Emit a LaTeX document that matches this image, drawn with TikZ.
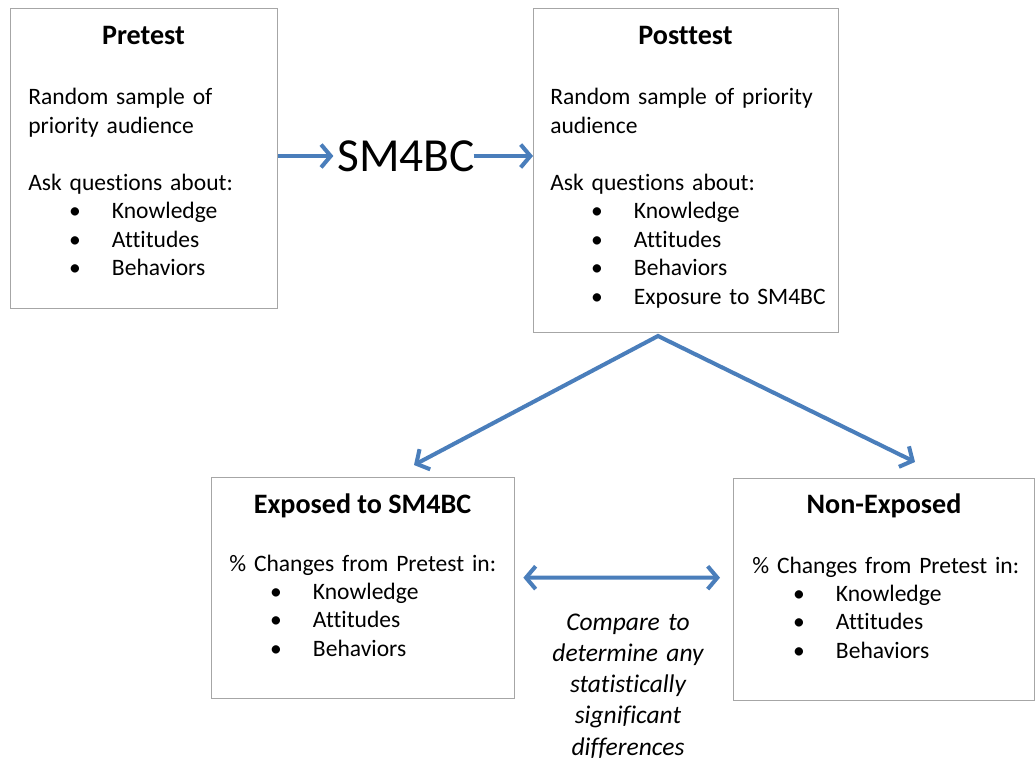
\documentclass[tikz,border=0pt]{standalone}
\usepackage{fontspec}
\setmainfont{Carlito}[Ligatures={NoCommon}]
\usetikzlibrary{arrows.meta, positioning, calc}

\definecolor{flowblue}{HTML}{4A7EBB}
\definecolor{framegray}{HTML}{A6A6A6}

\newcommand{\bodysize}{\fontsize{13.4}{16.2}\selectfont}
\newcommand{\bitem}[1]{\hspace*{26.6pt}\makebox[0pt]{\textbullet}\hspace*{21pt}#1}

\tikzset{
  box/.style={draw=framegray, line width=0.8pt, anchor=north west, inner sep=0pt},
  boxtitle/.style={anchor=base, inner sep=0pt, font=\fontsize{16}{19}\selectfont\bfseries},
  boxbody/.style={anchor=base west, inner sep=0pt, text width=5.8cm, align=left, font=\bodysize},
  flow/.style={draw=flowblue, line width=2.3pt, line join=miter,
    -{Straight Barb[length=5.5pt,width=13pt]}},
  twoway/.style={flow, {Straight Barb[length=5.5pt,width=13pt]}-{Straight Barb[length=5.5pt,width=13pt]}},
}

\begin{document}
\begin{tikzpicture}[x=0.02cm, y=-0.02cm]
    \useasboundingbox (0,0) rectangle (1035,760);

    % boxes
    \node[box, minimum width=5.34cm, minimum height=6.00cm] (pre)  at (10,8)   {};
    \node[box, minimum width=6.10cm, minimum height=6.48cm] (post) at (533,8)  {};
    \node[box, minimum width=6.06cm, minimum height=4.42cm] (exp)  at (211,477) {};
    \node[box, minimum width=6.02cm, minimum height=4.44cm] (non)  at (733,478) {};

    % titles
    \node[boxtitle] (pretitle)  at (143.5,45) {Pretest};
    \node[boxtitle] (posttitle) at (685.5,45) {Posttest};
    \node[boxtitle] (exptitle)  at (362.5,513) {Exposed to SM4BC};
    \node[boxtitle] (nontitle)  at (884,513) {Non-Exposed};

    % box texts
    \node[boxbody] (prebody) at (28,105) {Random sample of\\priority audience\\[16.2pt]
        Ask questions about:\\\bitem{Knowledge}\\\bitem{Attitudes}\\\bitem{Behaviors}};
    \node[boxbody] (postbody) at (550,105) {Random sample of priority\\audience\\[16.2pt]
        Ask questions about:\\\bitem{Knowledge}\\\bitem{Attitudes}\\\bitem{Behaviors}\\\bitem{Exposure to SM4BC}};
    \node[boxbody] (expbody) at (229,571) {\% Changes from Pretest in:\\
        \bitem{Knowledge}\\\bitem{Attitudes}\\\bitem{Behaviors}};
    \node[boxbody] (nonbody) at (752,573) {\% Changes from Pretest in:\\
        \bitem{Knowledge}\\\bitem{Attitudes}\\\bitem{Behaviors}};

    % campaign in the middle
    \node[inner sep=2pt, font=\fontsize{27}{32}\selectfont] (sm) at (406,156) {SM4BC};
    \node[anchor=base, inner sep=0pt, text width=4cm, align=center, font=\fontsize{14.5}{17.8}\selectfont\itshape]
        (compare) at (628,630) {Compare to\\determine any\\statistically\\significant\\differences};

    % arrow ends
    \coordinate (fork)  at (658,336);
    \coordinate (expin) at (414,465);
    \coordinate (nonin) at (915,462);

    \draw[flow] (pre.east |- sm) -- (sm.west);
    \draw[flow] ([xshift=-0.1cm]sm.east) -- (post.west |- sm);
    \draw[twoway] (expin) -- (fork) -- (nonin); % split after posttest
    \draw[twoway, shorten <=0.16cm, shorten >=0.26cm] ([yshift=0.21cm]exp.east) -- ([yshift=0.24cm]non.west);
\end{tikzpicture}
\end{document}
